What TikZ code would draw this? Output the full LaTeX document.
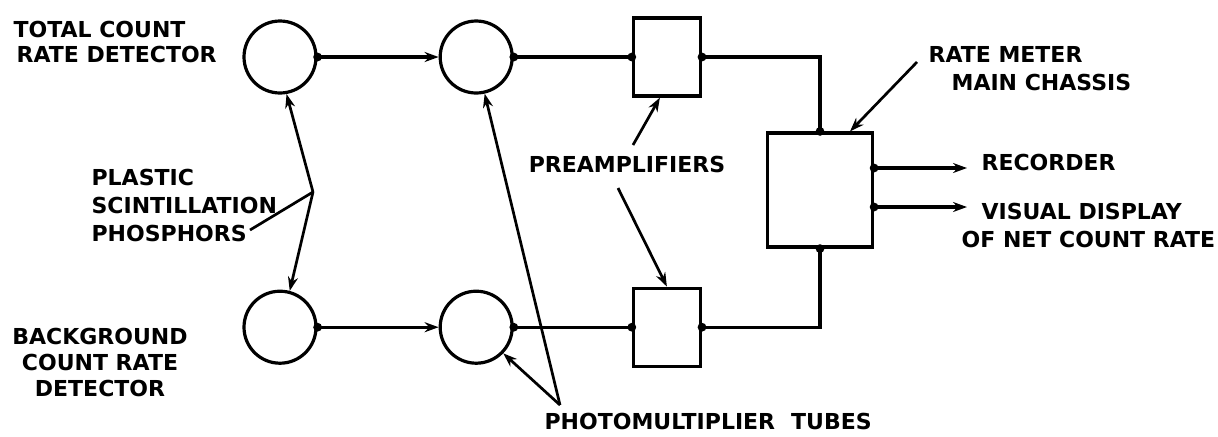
\documentclass[tikz,border=0pt]{standalone}
\usepackage{fontspec}
\setmainfont{DejaVu Sans}
\usetikzlibrary{positioning,arrows.meta,calc}
\newcommand{\lblfont}{\fontsize{11}{14}\selectfont\bfseries}
\tikzset{
  >={Stealth[length=7pt,width=5pt]},
  tube/.style={draw,circle,minimum size=36pt,inner sep=0pt},
  amp/.style={draw,rectangle,minimum width=33.5pt,minimum height=39pt,inner sep=0pt},
  meter/.style={draw,rectangle,minimum width=52.5pt,minimum height=57pt,inner sep=0pt},
  lbl/.style={font=\lblfont,inner sep=0pt},
  lead/.style={line width=1.35pt},
}

\begin{document}
\begin{tikzpicture}[
x=0.5pt,y=-0.5pt,
line width=1.6pt
]
\fill[white] (0,0) rectangle (1218,436);
\useasboundingbox (0,0) rectangle (1218,436);

\node[tube] (tc) at (280,57) {};
\node[tube,right=60.5pt of tc] (pt1) {};
\node[amp,right=59pt of pt1] (pa1) {};
\node[tube,below=97.5pt of tc] (bc) {};
\node[tube,right=60.5pt of bc] (pt2) {};
\node[amp,right=59pt of pt2] (pa2) {};
\node[meter] (rm) at (820,190) {};

\node[lbl,align=left,anchor=north west,font=\fontsize{11}{12.5}\selectfont\bfseries] (tcl) at (12,20) {TOTAL COUNT\\\hspace*{1.5pt}RATE DETECTOR};
\node[lbl,align=left,anchor=north west] (pl) at (90,168) {PLASTIC\\SCINTILLATION\\PHOSPHORS};
\node[lbl,align=center,anchor=north,font=\fontsize{11}{13}\selectfont\bfseries] (bgl) at (100,327) {BACKGROUND\\COUNT RATE\\DETECTOR};
\node[lbl] (pre) at (627,164) {PREAMPLIFIERS};
\node[lbl,anchor=west] (pml) at (543,421) {PHOTOMULTIPLIER\hspace{8pt}TUBES};
\node[lbl,align=left,anchor=north west] (rml) at (927,45) {RATE METER\\\hspace*{11.5pt}MAIN CHASSIS};
\node[lbl,anchor=west] (rec) at (980,162) {RECORDER};
\node[lbl,align=left,anchor=north west] (vd) at (960,202) {\hspace*{10pt}VISUAL DISPLAY\\OF NET COUNT RATE};

\path
(tc) edge[->] (pt1)
(pt1) edge (pa1)
(bc) edge[->] (pt2)
(pt2) edge (pa2);
\draw (pa1.east) -| (rm.north);
\draw (pa2.east) -| (rm.south);

\coordinate (o1) at ([yshift=11pt]rm.east);
\coordinate (o2) at ([yshift=-8.5pt]rm.east);
\draw[->] (o1) -- ($(o1 -| rec.west)+(-13,0)$);
\draw[->] (o2) -- ($(o2 -| rec.west)+(-13,0)$);

\foreach \p in {tc.east,pt1.east,pa1.west,pa1.east,bc.east,pt2.east,pa2.west,pa2.east,rm.north,rm.south,o1,o2}
  \fill (\p) circle (2.2pt);

\coordinate (ps) at (250,230);
\coordinate (pj) at (313,192);
\draw[lead] (ps) -- (pj);
\draw[lead,->] (pj) -- (tc.-80);
\draw[lead,->] (pj) -- (bc.75);

\coordinate (pu) at (633,145);
\coordinate (pd) at (618,188);
\draw[lead,->] (pu) -- ([xshift=-3.5pt]pa1.south);
\draw[lead,->] (pd) -- (pa2.north);

\coordinate (pv) at (560,405);
\draw[lead,->] (pv) -- (pt1.-77);
\draw[lead,->] (pv) -- (pt2.-44);

\coordinate (rmp) at (917,62);
\draw[lead,->] (rmp) -- ([xshift=15pt]rm.north);
\end{tikzpicture}
\end{document}
